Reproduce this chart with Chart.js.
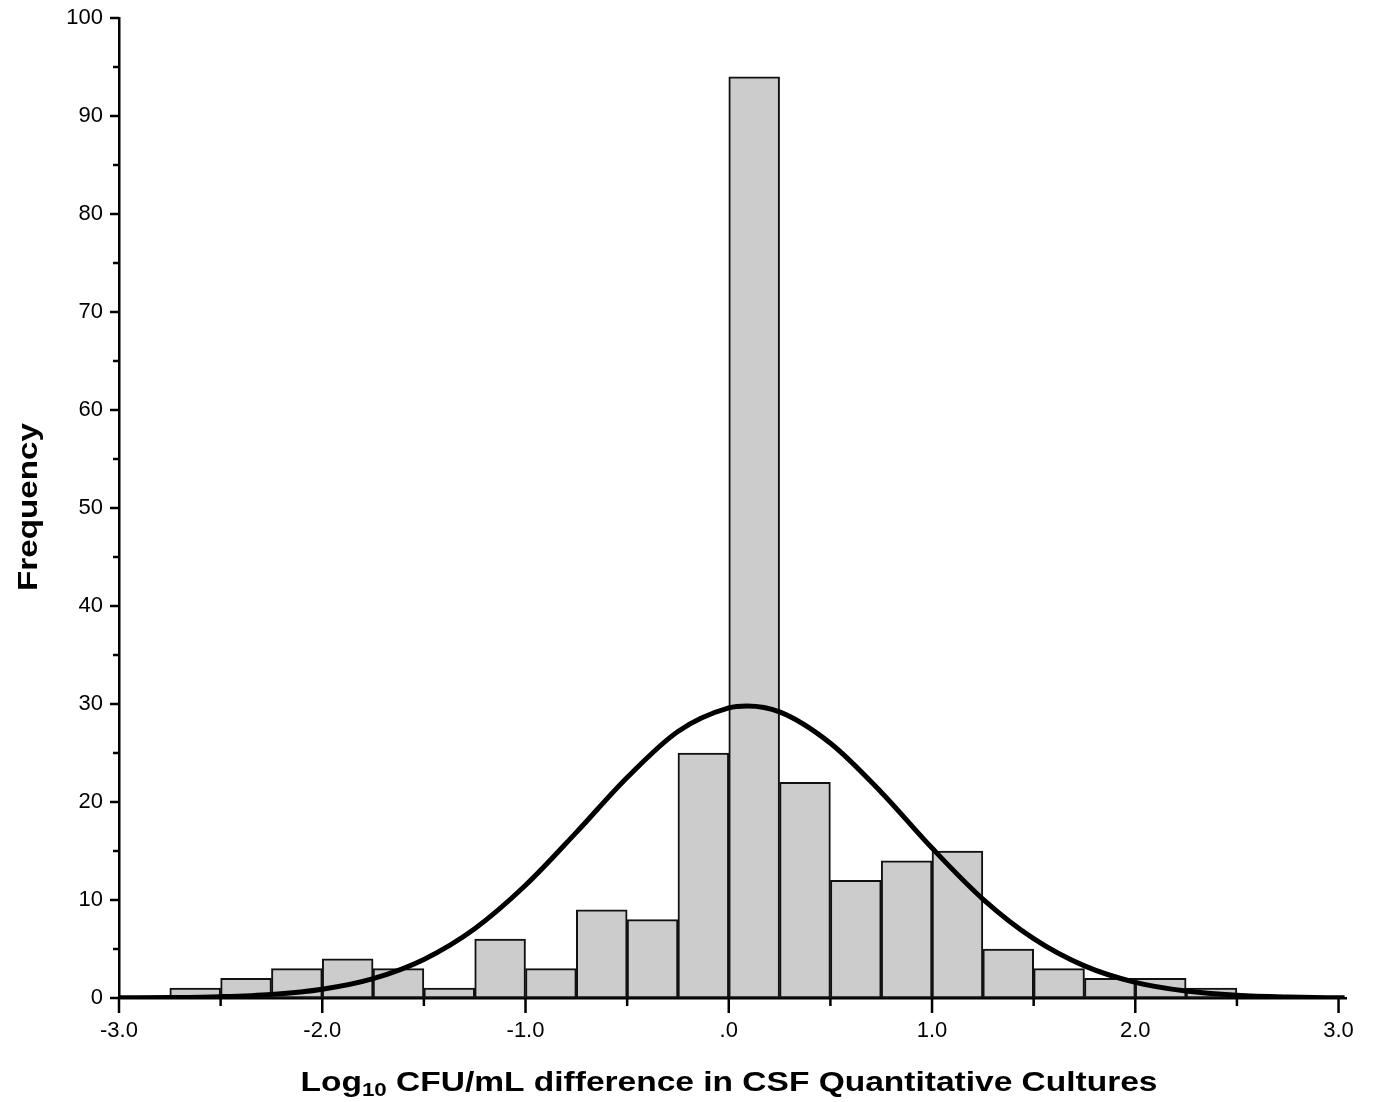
<!DOCTYPE html>
<html lang="en">
<head>
    <meta charset="UTF-8">
    <title>CSF Quantitative Cultures</title>
    <script src="https://cdn.jsdelivr.net/npm/chart.js"></script>
    <style>
        html, body { margin: 0; padding: 0; background: #fff; }
        #wrap { position: relative; width: 1374px; height: 1102px; }
    </style>
</head>
<body>
<div id="wrap"><canvas id="hist"></canvas></div>
<script>
    // histogram bins (left edge, width 0.25) and counts
    const binLeft = [-2.75, -2.5, -2.25, -2.0, -1.75, -1.5, -1.25, -1.0, -0.75, -0.5, -0.25,
                     0.0, 0.25, 0.5, 0.75, 1.0, 1.25, 1.5, 1.75, 2.0, 2.25];
    const counts  = [1, 2, 3, 4, 3, 1, 6, 3, 9, 8, 25,
                     94, 22, 12, 14, 15, 5, 3, 2, 2, 1];
    const binWidth = 0.25;

    // normal curve
    const curveX = [-3.0, -2.75, -2.5, -2.25, -2.0, -1.75, -1.5, -1.25, -1.0, -0.75, -0.5, -0.25,
                    0.0, 0.09, 0.25, 0.5, 0.75, 1.0, 1.25, 1.5, 1.75, 2.0, 2.25, 2.5, 2.75, 3.0, 3.03];
    const curveY = [0.02, 0.05, 0.14, 0.37, 0.9, 1.98, 3.94, 7.07, 11.5, 16.9, 22.5, 27.2,
                    29.6, 29.8, 29.2, 26.0, 21.0, 15.3, 10.1, 6.06, 3.28, 1.6, 0.71, 0.28, 0.1, 0.03, 0.03];

    const xLabelTicks = [-3, -2, -1, 0, 1, 2, 3];
    const xMinorTicks = [-2.5, -1.5, -0.5, 0.5, 1.5, 2.5];
    const yMax = 100;

    const FONT = 'Liberation Sans, Arial, sans-serif';

    // draws text stretched horizontally to a given width
    function stretchedText(c, parts, cx, base, width) {
        let total = 0;
        parts.forEach(p => { c.font = p.f; p.w = c.measureText(p.t).width; total += p.w; });
        const k = width / total;
        c.save();
        c.translate(cx - width / 2, base);
        c.scale(k, 1);
        let x = 0;
        parts.forEach(p => { c.font = p.f; c.fillText(p.t, x, p.dy); x += p.w; });
        c.restore();
    }

    const tickMarks = {
        id: 'tickMarks',
        afterDraw(chart) {
            const c = chart.ctx;
            const xs = chart.scales.x, ys = chart.scales.y;
            const area = chart.chartArea;
            c.save();
            c.strokeStyle = '#000';
            c.lineWidth = 2.5;
            c.beginPath();
            xLabelTicks.forEach(v => {
                const px = xs.getPixelForValue(v);
                c.moveTo(px, area.bottom); c.lineTo(px, area.bottom + 15);
            });
            xMinorTicks.forEach(v => {
                const px = xs.getPixelForValue(v);
                c.moveTo(px, area.bottom); c.lineTo(px, area.bottom + 8);
            });
            for (let v = 0; v <= yMax; v += 5) {
                const py = ys.getPixelForValue(v);
                const len = v % 10 === 0 ? 9 : 6;
                c.moveTo(area.left, py); c.lineTo(area.left - len, py);
            }
            c.stroke();

            c.fillStyle = '#000';
            c.textBaseline = 'alphabetic';
            c.textAlign = 'left';
            // x title with subscript
            stretchedText(c, [
                { t: 'Log', f: 'bold 27px ' + FONT, dy: 0 },
                { t: '10', f: 'bold 18px ' + FONT, dy: 5 },
                { t: ' CFU/mL difference in CSF Quantitative Cultures', f: 'bold 27px ' + FONT, dy: 0 }
            ], 729, 1091, 857);
            // y title
            c.save();
            c.translate(37, 507);
            c.rotate(-Math.PI / 2);
            stretchedText(c, [{ t: 'Frequency', f: 'bold 28px ' + FONT, dy: 0 }], 0, 0, 168);
            c.restore();
            c.restore();
        }
    };

    new Chart(document.getElementById('hist'), {
        type: 'bar',
        data: {
            datasets: [
                {
                    type: 'line',
                    data: curveX.map((x, i) => ({ x: x, y: curveY[i] })),
                    borderColor: '#000',
                    borderWidth: 5,
                    pointRadius: 0,
                    cubicInterpolationMode: 'monotone',
                    fill: false,
                    order: 0
                },
                {
                    type: 'bar',
                    data: binLeft.map((l, i) => ({ x: l + binWidth / 2, y: counts[i] })),
                    backgroundColor: '#cccccc',
                    borderColor: '#111111',
                    borderWidth: 2,
                    borderSkipped: false,
                    barPercentage: 1,
                    categoryPercentage: 1,
                    order: 1
                }
            ]
        },
        options: {
            responsive: true,
            maintainAspectRatio: false,
            animation: false,
            layout: { padding: { top: 18, right: 24, left: 0, bottom: 0 } },
            plugins: {
                legend: { display: false },
                tooltip: { enabled: false }
            },
            scales: {
                x: {
                    type: 'linear',
                    min: -3,
                    max: 3.04,
                    offset: false,
                    afterBuildTicks: s => { s.ticks = xLabelTicks.map(v => ({ value: v })); },
                    afterFit: s => { s.height = 104; },
                    ticks: {
                        padding: 20,
                        color: '#000',
                        font: { family: FONT, size: 22 },
                        maxRotation: 0,
                        callback: v => v === 0 ? '.0' : v.toFixed(1)
                    },
                    grid: { display: false, drawTicks: false, offset: false },
                    border: { display: true, color: '#000', width: 2.5 }
                },
                y: {
                    min: 0,
                    max: yMax,
                    afterFit: s => { s.width = 119; s.paddingTop = 0; s.paddingBottom = 0; },
                    ticks: {
                        stepSize: 10,
                        padding: 16,
                        color: '#000',
                        font: { family: FONT, size: 22 }
                    },
                    grid: { display: false, drawTicks: false },
                    border: { display: true, color: '#000', width: 2.5 }
                }
            }
        },
        plugins: [tickMarks]
    });
</script>
</body>
</html>
